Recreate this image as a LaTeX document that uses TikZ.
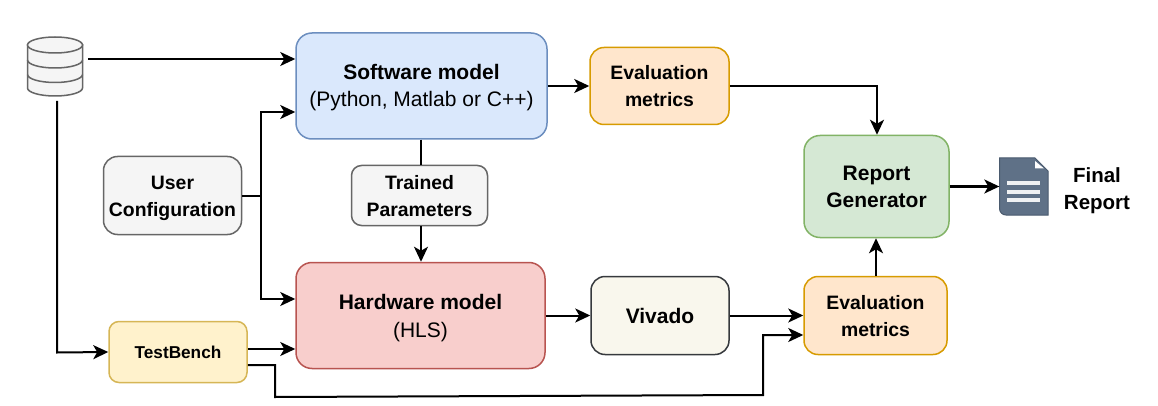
\documentclass[tikz,border=0pt]{standalone}
\usepackage{fontspec}
\setmainfont{Liberation Sans}
\usetikzlibrary{arrows.meta,calc}
\definecolor{bluef}{HTML}{DAE8FC}\definecolor{blued}{HTML}{6C8EBF}
\definecolor{orf}{HTML}{FFE6CC}\definecolor{ord}{HTML}{D79B00}
\definecolor{grf}{HTML}{F5F5F5}\definecolor{grd}{HTML}{666666}
\definecolor{gnf}{HTML}{D5E8D4}\definecolor{gnd}{HTML}{82B366}
\definecolor{rdf}{HTML}{F8CECC}\definecolor{rdd}{HTML}{B85450}
\definecolor{yef}{HTML}{FFF2CC}\definecolor{yed}{HTML}{D6B656}
\definecolor{vif}{HTML}{F9F7ED}\definecolor{vid}{HTML}{36393D}
\definecolor{docf}{HTML}{5F7187}\definecolor{docd}{HTML}{4A5A6E}
\tikzset{
  box/.style={draw,line width=1.5pt,rounded corners=#1,align=center,inner sep=0pt,font=\fontsize{19.4}{27}\selectfont},
  box/.default=14pt,
  big/.style={font=\fontsize{21}{27}\selectfont},
  conn/.style={line width=2pt,black,-{Stealth[length=15pt,width=14pt,inset=4pt]}},
  plain/.style={line width=2pt,black},
  dbline/.style={draw=grd,line width=1.5pt},
}
\newcommand{\bx}[1]{\textbf{#1}}
\newcommand{\dn}[1]{\rule{0pt}{#1pt}}
\begin{document}
\begin{tikzpicture}[x=1pt,y=-1pt]
\useasboundingbox (0,0) rectangle (1158,406);
\fill[white] (0,0) rectangle (1158,406);
% boxes
\node[box=16pt,big,fill=bluef,draw=blued,minimum width=251pt,minimum height=106pt] (sw) at (421.5,86) {\dn{19}\bx{Software model}\\(Python, Matlab or C++)};
\node[box,fill=orf,draw=ord,minimum width=139pt,minimum height=77pt] (ev1) at (659.5,86) {\bx{Evaluation}\\\bx{metrics}};
\node[box,fill=grf,draw=grd,minimum width=138pt,minimum height=78pt] (uc) at (172.5,195.5) {\dn{20}\bx{User}\\\bx{Configuration}};
\node[box=10pt,fill=grf,draw=grd,minimum width=136pt,minimum height=60pt] (tp) at (419.5,195.5) {\dn{15}\bx{Trained}\\\bx{Parameters}};
\node[box=16pt,big,fill=gnf,draw=gnd,minimum width=145pt,minimum height=102pt] (rg) at (876.5,186.5) {\bx{Report}\\\bx{Generator}};
\node[box=16pt,big,fill=rdf,draw=rdd,minimum width=249pt,minimum height=106pt] (hw) at (420.5,315.5) {\dn{20}\bx{Hardware model}\\[1pt](HLS)};
\node[box,fill=vif,draw=vid,minimum width=138pt,minimum height=78pt,big] (vi) at (660,315.5) {\bx{Vivado}};
\node[box,fill=orf,draw=ord,minimum width=143pt,minimum height=78pt] (ev2) at (875.5,315.5) {\dn{16}\bx{Evaluation}\\\bx{metrics}};
\node[box=10pt,fill=yef,draw=yed,minimum width=138pt,minimum height=61pt,font=\fontsize{17.2}{20}\selectfont] (tb) at (178,352) {\bx{TestBench}};
\node[font=\fontsize{20.5}{27}\selectfont,align=center,inner sep=0pt] (fr) at (1097,191) {\bx{Final}\\\bx{Report}};
% database icon
\node[minimum width=55pt,minimum height=58pt,inner sep=0pt] (db) at (55,67) {};
\path[fill=grf,dbline] (27.5,45) -- (27.5,88) arc[start angle=180,end angle=0,x radius=27.5,y radius=8] -- (82.5,45) -- cycle;
\path[fill=grf,dbline] (55,45) ellipse[x radius=27.5,y radius=8];
\draw[dbline] (27.5,60) arc[start angle=180,end angle=0,x radius=27.5,y radius=8];
\draw[dbline] (27.5,74.5) arc[start angle=180,end angle=0,x radius=27.5,y radius=8];
% document icon
\node[minimum width=49pt,minimum height=57pt,inner sep=0pt] (doc) at (1024,186.5) {};
\fill[docf,draw=docd,line width=1pt] (999.5,158) -- (1035,158) -- (1048,171) -- (1048,215) -- (1006,215) arc[start angle=90,end angle=180,radius=6.5] -- cycle;
\fill[white] (1035,161) -- (1035,168.5) -- (1044,168.5) -- cycle;
\fill[white!90!docf] (1007,181) rectangle (1040,185);
\fill[white!90!docf] (1007,189.5) rectangle (1040,193.5);
\fill[white!90!docf] (1007,197.5) rectangle (1040,201.5);
% connector ends
\coordinate (dbr) at (88,59);
\coordinate (dbb) at (57,101);
% connectors
\draw[conn] (dbr) -- (dbr -| sw.west);
\draw[conn] (dbb) -- (57,352.5) -- (tb.west);
\draw[plain] (uc.east) -- (261,195.5);
\draw[conn] (261,195.5) |- (sw.west |- 0,112);
\draw[conn] (261,195.5) |- (hw.west |- 0,299);
\draw[conn] (sw.east) -- (ev1.west);
\draw[conn] (ev1.east) -- (877,86) -- (rg.north -| 877,0);
\draw[plain] (sw.south -| 421,0) -- (tp.north -| 421,0);
\draw[conn] (tp.south -| 421,0) -- (hw.north -| 421,0);
\draw[conn] (hw.east) -- (vi.west);
\draw[conn] (vi.east) -- (ev2.west);
\draw[conn] (ev2.north -| 876,0) -- (rg.south -| 876,0);
\draw[conn] (rg.east) -- (doc.west);
\draw[conn] (tb.east |- 0,349) -- (hw.west |- 0,349);
\draw[conn] (tb.east |- 0,365) -- (275,365) -- (275,397) -- (763,395) -- (763,335) -- (ev2.west |- 0,335);
\end{tikzpicture}
\end{document}
